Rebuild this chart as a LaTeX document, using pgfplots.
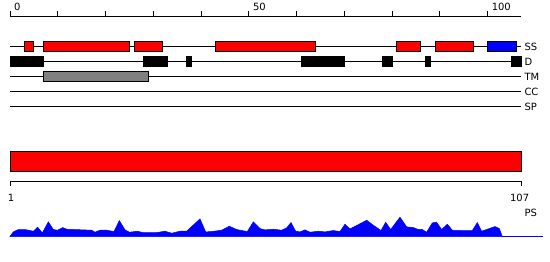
\documentclass[border=0pt]{standalone}
\usepackage{pgfplots}
\pgfplotsset{compat=1.18}
\usepackage{fontspec}
\setmainfont{DejaVu Sans}
\newcommand\bx[5]{\addplot[fill=#5,draw=black,line width=1bp] coordinates {(#1,#3) (#2,#3) (#2,#4) (#1,#4)} -- cycle;}
\begin{document}
\begin{tikzpicture}
\begin{axis}[scale only axis, width=550bp, height=260bp,
  xmin=-2.094, xmax=113.07, ymin=0, ymax=260, y dir=reverse,
  hide axis, clip=false,
  every node/.style={font=\fontsize{11bp}{13bp}\selectfont, inner sep=0pt}]
\addplot[draw=none] coordinates {(-2.094,0) (113.07,260)};
% ruler
\addplot[black, line width=1bp] coordinates {(0,15) (107,15)};
\pgfplotsinvokeforeach{0,10,20,30,40,50,60,70,80,90,100}{
  \addplot[black, line width=1bp] coordinates {(#1,10) (#1,15.5)};
}
\node[anchor=base west] at (axis cs:0.15,9.5) {0};
\node[anchor=base west] at (axis cs:50.15,9.5) {50};
\node[anchor=base west] at (axis cs:100.15,9.5) {100};
% track lines
\pgfplotsinvokeforeach{45,60,75,90,105}{
  \addplot[black, line width=1bp] coordinates {(0,#1) (107,#1)};
}
\node[anchor=base west] at (axis cs:107,49.5) {SS};
\node[anchor=base west] at (axis cs:107,64.5) {D};
\node[anchor=base west] at (axis cs:107,79.5) {TM};
\node[anchor=base west] at (axis cs:107,94.5) {CC};
\node[anchor=base west] at (axis cs:107,109.5) {SP};
% SS
\bx{3}{5}{40.3}{50.5}{red}
\bx{7}{25}{40.3}{50.5}{red}
\bx{26}{32}{40.3}{50.5}{red}
\bx{43}{64}{40.3}{50.5}{red}
\bx{81}{86}{40.3}{50.5}{red}
\bx{89}{97}{40.3}{50.5}{red}
\bx{100}{106}{40.3}{50.5}{blue}
% D
\bx{0}{7}{55.2}{65.5}{black}
\bx{28}{33}{55.2}{65.5}{black}
\bx{37}{38}{55.2}{65.5}{black}
\bx{61}{70}{55.2}{65.5}{black}
\bx{78}{80}{55.2}{65.5}{black}
\bx{87}{88}{55.2}{65.5}{black}
\bx{105}{107}{55.2}{65.5}{black}
% TM
\bx{7}{29}{70.3}{80.5}{gray}
% sequence bar
\bx{0}{107}{150.3}{170.5}{red}
\addplot[black, line width=1bp] coordinates {(0,184.5) (0,180.3) (107,180.3) (107,184.5)};
\node[anchor=base] at (axis cs:0.2,200) {1};
\node[anchor=base] at (axis cs:106.7,200) {107};
\node[anchor=base west] at (axis cs:107.0,215.5) {PS};
% profile
\addplot[fill=blue, draw=blue, line width=0.5bp] coordinates {
(0,235.3) (0.70,230.67) (1.74,228.33) (3.14,228.33) (4.89,230) (5.79,226) (6.77,231.67)
(8.03,220.67) (9.07,228.33) (9.98,229) (11.03,226.33) (11.86,228) (17.10,229) (17.80,231)
(18.84,229) (20.24,229) (21.78,230.33) (22.89,219.33) (24.08,228.67) (24.99,231) (26.66,230)
(27.78,231.33) (30.71,231.33) (32.45,230) (33.85,232) (35.59,230) (36.99,230) (39.78,217.67)
(40.97,230.67) (42.23,230.33) (44.32,229) (45.92,225) (47.46,228.33) (49.69,230.33)
(50.95,220.67) (52.34,227.33) (53.39,228.67) (55.14,228) (56.88,229) (57.93,226.67)
(58.84,221.33) (59.81,230) (60.72,230.67) (61.77,228.67) (62.81,231) (64.56,230) (65.95,230.67)
(67.70,229.33) (69.10,230.33) (70.14,223) (71.19,227.67) (72.58,224.33) (74.68,219) (76.07,224)
(77.68,229.33) (78.66,221) (79.70,228.33) (81.66,216) (83.05,225.67) (84.45,226.33) (85.50,228.33)
(86.19,228) (87.24,231) (88.43,221.67) (89.33,221) (90.38,228.33) (91.57,223) (92.61,229)
(94.57,229.33) (96.80,229.33) (97.85,221.33) (98.76,230) (100.15,227.67) (101.55,225.33)
(102.46,227.33) (103.08,235.3)} -- cycle;
\addplot[blue, line width=1bp] coordinates {(103.08,235.3) (111.53,235.3)};
\end{axis}
\end{tikzpicture}
\end{document}
